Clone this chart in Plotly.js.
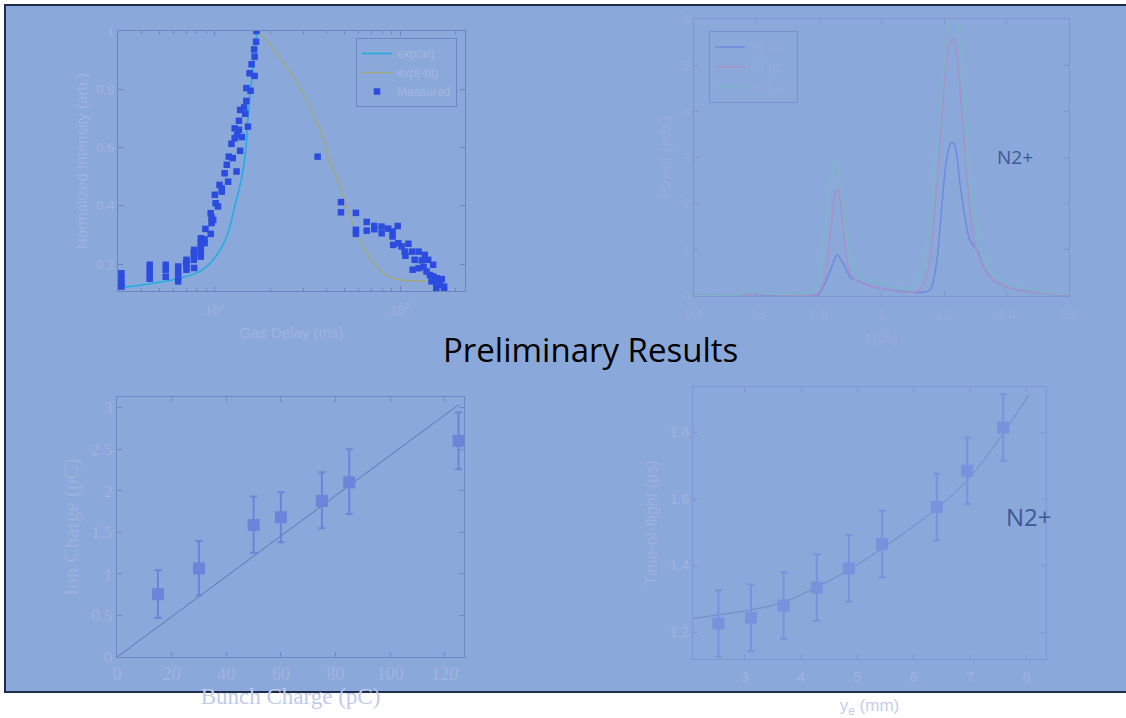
<!DOCTYPE html>
<html>
<head>
<meta charset="utf-8">
<script src="https://cdn.plot.ly/plotly-3.0.1.min.js"></script>
<style>html,body{margin:0;padding:0;background:#fff;}#chart{width:1126px;height:718px;}</style>
</head>
<body>
<div id="chart"></div>
<script>
// ---------- Panel 1: gas delay scan (log x) ----------
const expAtX = [3, 4.46, 6.48, 8.3, 9.8, 11.6, 12.8, 14.0, 14.7, 15.07, 15.85, 16.9];
const expAtY = [0.118, 0.133, 0.152, 0.175, 0.215, 0.295, 0.398, 0.5, 0.592, 0.695, 0.842, 1.0];
const expBtX = [16.9, 17.5, 26.5, 37.0, 41.9, 45.5, 53.7, 66.1, 81.3, 100, 120, 142];
const expBtY = [1.0, 0.992, 0.843, 0.661, 0.552, 0.5, 0.363, 0.238, 0.169, 0.146, 0.143, 0.142];
const measX = [3.13,3.13,3.13,3.13, 4.45,4.45,4.45,4.45, 5.43,5.43,5.43, 6.34,6.34,6.34,6.34,
  7.03,7.03,7.03, 7.73,7.73,7.73, 7.7,7.7,7.0, 8.4,8.4,8.4,8.4,8.4, 8.8,8.8,8.9,
  9.5,9.5,9.6,9.8,9.6, 10.0,10.1,10.4, 10.6,10.9,10.9, 11.3,11.6,11.8,11.9,12.5,13.1,
  12.3,12.8,12.8,13.2,14.0,13.7, 13.5,13.5,15.1,13.7,14.6,14.4, 14.8,14.8,15.6,15.4,16.4,15.8,
  16.4,16.3,16.7,16.8,
  35.9, 48.0,48.0, 57.8,57.8,57.8, 66.1,66.1, 72.6,72.6, 79.6,79.6, 86.4, 91.2,91.2, 97.2,
  91.8,98.0,102,111,106,116,126,107,136,120,131,142,151,117,126,134,139,145,151,158,168,
  148,157,164,173,157,173];
const measY = [0.169,0.152,0.135,0.123, 0.198,0.181,0.165,0.150, 0.198,0.181,0.157, 0.192,0.175,0.158,0.141,
  0.215,0.198,0.181, 0.249,0.232,0.187, 0.238,0.215,0.204, 0.289,0.272,0.255,0.240,0.226, 0.272,0.285,0.321,
  0.375,0.304,0.341,0.352,0.360, 0.438,0.409,0.398, 0.472,0.449,0.460, 0.512,0.541,0.483,0.569,0.564,0.518,
  0.613,0.632,0.666,0.643,0.636,0.589, 0.692,0.661,0.672,0.729,0.716,0.738, 0.760,0.804,0.795,0.855,0.846,0.886,
  0.912,0.937,0.963,1.0,
  0.569, 0.413,0.378, 0.376,0.318,0.304, 0.345,0.315, 0.331,0.320, 0.329,0.306, 0.322, 0.312,0.295, 0.331,
  0.266,0.272,0.261,0.270,0.243,0.243,0.243,0.229,0.232,0.215,0.213,0.215,0.198,0.181,0.186,0.190,0.175,0.163,0.158,0.152,0.149,
  0.141,0.135,0.129,0.123,0.114,0.110];
const p1Names = ["exp(at)", "exp(-bt)", "Measured"];

// ---------- Panel 2: time-of-flight spectra ----------
const s35X = [0.40,0.50,0.58,0.62,0.70,0.78,0.797,0.824,0.845,0.858,0.877,0.893,0.904,0.931,0.973,1.027,1.06,1.10,1.13,1.155,1.176,1.192,1.208,1.222,1.232,1.240,1.251,1.267,1.283,1.305,1.326,1.358,1.411,1.475,1.55,1.60];
const s35Y = [0.01,0.02,0.03,0.02,0.02,0.02,0.03,0.35,0.71,0.89,0.71,0.49,0.38,0.31,0.20,0.13,0.10,0.08,0.08,0.13,0.71,1.86,2.95,3.31,3.30,3.09,2.44,1.72,1.21,1.00,0.63,0.35,0.17,0.09,0.04,0.02];
const s60X = [0.40,0.50,0.58,0.62,0.70,0.78,0.792,0.810,0.824,0.840,0.851,0.858,0.867,0.877,0.888,0.899,0.915,0.952,0.995,1.048,1.09,1.12,1.144,1.166,1.187,1.203,1.219,1.230,1.240,1.257,1.273,1.294,1.315,1.347,1.401,1.475,1.55,1.60];
const s60Y = [0.01,0.02,0.04,0.03,0.02,0.02,0.03,0.20,0.63,1.57,2.22,2.31,2.12,1.50,0.85,0.49,0.35,0.24,0.17,0.10,0.08,0.12,0.42,1.50,3.31,4.75,5.51,5.56,5.26,4.03,2.58,1.28,0.78,0.42,0.20,0.09,0.04,0.02];
const s100X = [0.40,0.50,0.55,0.568,0.594,0.616,0.64,0.70,0.76,0.776,0.792,0.813,0.835,0.851,0.854,0.867,0.883,0.899,0.915,0.952,0.995,1.059,1.101,1.134,1.155,1.176,1.198,1.214,1.224,1.238,1.251,1.267,1.283,1.305,1.326,1.358,1.411,1.475,1.55,1.60];
const s100Y = [0.01,0.02,0.04,0.08,0.08,0.06,0.04,0.04,0.05,0.06,0.20,1.21,2.37,2.95,2.98,2.51,1.57,0.85,0.53,0.35,0.28,0.17,0.20,0.71,1.57,3.16,4.75,5.76,6.10,6.10,5.47,4.03,2.58,1.50,0.85,0.49,0.24,0.13,0.06,0.03];
const p2Names = ["35 pC", "60 pC", "100 pC"];

// ---------- Panel 3: ion charge vs bunch charge ----------
const bunchQ = [15, 30, 50, 60, 75, 85, 125];
const ionQ = [0.755, 1.064, 1.586, 1.679, 1.876, 2.10, 2.598];
const ionErrPlus = [0.289, 0.33, 0.342, 0.30, 0.345, 0.398, 0.342];
const ionErrMinus = [0.285, 0.321, 0.333, 0.30, 0.33, 0.381, 0.341];
const fitLineX = [0, 125];
const fitLineY = [0, 3.03];

// ---------- Panel 4: time of flight vs y_e ----------
const yeX = [2.53, 3.11, 3.69, 4.28, 4.85, 5.44, 6.41, 6.95, 7.59];
const tofY = [1.226, 1.243, 1.280, 1.334, 1.391, 1.465, 1.576, 1.685, 1.815];
const tofErr = [0.10, 0.10, 0.10, 0.10, 0.10, 0.10, 0.10, 0.10, 0.10];
const tofFitX = [2.08, 2.53, 3.11, 3.69, 4.28, 4.85, 5.44, 6.41, 6.95, 7.59, 8.04];
const tofFitY = [1.241, 1.252, 1.267, 1.290, 1.336, 1.387, 1.452, 1.572, 1.657, 1.797, 1.912];

const W = 1126, H = 718;
const fx = px => px / W;
const fy = py => 1 - py / H;
const sans = "Liberation Sans, Arial, sans-serif";
const serif = "Liberation Serif, Times New Roman, serif";

const traces = [
  {x: expAtX, y: expAtY, name: p1Names[0], mode: "lines", line: {color: "#1DAEE2", width: 1.5, shape: "spline"}, xaxis: "x", yaxis: "y", legend: "legend"},
  {x: expBtX, y: expBtY, name: p1Names[1], mode: "lines", line: {color: "#A6A968", width: 1.2, shape: "spline"}, xaxis: "x", yaxis: "y", legend: "legend"},
  {x: measX, y: measY, name: p1Names[2], mode: "markers", marker: {symbol: "square", size: 6.5, color: "#2B4CDF"}, xaxis: "x", yaxis: "y", legend: "legend"},
  {x: s35X, y: s35Y, name: p2Names[0], mode: "lines", line: {color: "#7089DE", width: 1.5, shape: "spline"}, xaxis: "x2", yaxis: "y2", legend: "legend2"},
  {x: s60X, y: s60Y, name: p2Names[1], mode: "lines", line: {color: "#A693C8", width: 1.5, shape: "spline"}, xaxis: "x2", yaxis: "y2", legend: "legend2"},
  {x: s100X, y: s100Y, name: p2Names[2], mode: "lines", line: {color: "#7DB6C6", width: 1.5, shape: "spline"}, xaxis: "x2", yaxis: "y2", legend: "legend2"},
  {x: fitLineX, y: fitLineY, mode: "lines", line: {color: "#5E77B0", width: 1}, xaxis: "x3", yaxis: "y3", showlegend: false},
  {x: bunchQ, y: ionQ, mode: "markers", marker: {symbol: "square", size: 12, color: "#6A85DA"},
   error_y: {type: "data", symmetric: false, array: ionErrPlus, arrayminus: ionErrMinus, color: "#6A85DA", thickness: 2, width: 3.5},
   xaxis: "x3", yaxis: "y3", showlegend: false},
  {x: tofFitX, y: tofFitY, mode: "lines", line: {color: "#7089C4", width: 1, shape: "spline"}, xaxis: "x4", yaxis: "y4", showlegend: false},
  {x: yeX, y: tofY, mode: "markers", marker: {symbol: "square", size: 12, color: "#7893DD"},
   error_y: {type: "data", array: tofErr, color: "#7893DD", thickness: 2, width: 3.5},
   xaxis: "x4", yaxis: "y4", showlegend: false}
];

function ax(o, lineColor, fontColor, family, size) {
  return Object.assign({
    showline: true, linecolor: lineColor, linewidth: 1, mirror: "allticks",
    ticks: "inside", ticklen: 5, tickcolor: lineColor, showgrid: false, zeroline: false,
    tickfont: {family: family, size: size, color: fontColor}, fixedrange: true
  }, o);
}

const layout = {
  width: W, height: H,
  margin: {l: 0, r: 0, t: 0, b: 0},
  paper_bgcolor: "#ffffff", plot_bgcolor: "rgba(0,0,0,0)",
  showlegend: true,
  shapes: [{type: "rect", xref: "paper", yref: "paper", x0: fx(5), x1: fx(1140), y0: fy(692), y1: fy(5),
    fillcolor: "#8AA8DA", line: {color: "#1E2D4D", width: 2}, layer: "below"}],
  xaxis: ax({domain: [fx(118), fx(465)], anchor: "y", type: "log", range: [Math.log10(3), 2.351],
    tickvals: [10, 100], ticktext: ["10<sup>1</sup>", "10<sup>2</sup>"], ticklabelstandoff: 7,
    minor: {ticks: "inside", ticklen: 3, tickcolor: "#6C84BF", tickvals: [4,5,6,7,8,9,20,30,40,50,60,70,80,90,200]},
    title: {text: "Gas Delay (ms)", font: {family: sans, size: 15, color: "#A0B4DF"}, standoff: 10}},
    "#6C84BF", "#A0B4DF", sans, 13),
  yaxis: ax({domain: [fy(291), fy(31)], anchor: "x", range: [0.108, 1.0], dtick: 0.2, tick0: 0,
    title: {text: "Normalized Intensity (arb.)", font: {family: sans, size: 15, color: "#A0B4DF"}, standoff: 5}},
    "#6C84BF", "#A0B4DF", sans, 13),
  xaxis2: ax({domain: [fx(694), fx(1069)], anchor: "y2", range: [0.4, 1.6], dtick: 0.2, tick0: 0.4, ticklabelstandoff: 6,
    title: {text: "t (μs)", font: {family: sans, size: 14, color: "#96ADDD"}, standoff: 12}},
    "#7D96CE", "#96ADDD", sans, 13),
  yaxis2: ax({domain: [fy(296), fy(19)], anchor: "x2", range: [0, 6], dtick: 1,
    title: {text: "Power (arb.)", font: {family: sans, size: 15, color: "#96ADDD"}, standoff: 8}},
    "#7D96CE", "#96ADDD", sans, 13),
  xaxis3: ax({domain: [fx(117), fx(464)], anchor: "y3", range: [0, 127], dtick: 20,
    title: {text: "Bunch Charge (pC)", font: {family: serif, size: 23, color: "#BFCBEA"}, standoff: 3}},
    "#6F89C6", "#A0B4DF", serif, 18),
  yaxis3: ax({domain: [fy(657), fy(397)], anchor: "x3", range: [0, 3.125], dtick: 0.5,
    title: {text: "Ion Charge (pC)", font: {family: serif, size: 21, color: "#9DB1DC"}, standoff: 6}},
    "#6F89C6", "#A0B4DF", serif, 17),
  xaxis4: ax({domain: [fx(693), fx(1046)], anchor: "y4", range: [2.08, 8.35], dtick: 1, ticklabelstandoff: 5,
    title: {text: "y<sub>e</sub> (mm)", font: {family: sans, size: 17, color: "#C3CEEB"}, standoff: 16}},
    "#7C96D0", "#9FB4DF", sans, 14),
  yaxis4: ax({domain: [fy(659), fy(387)], anchor: "x4", range: [1.119, 1.937], dtick: 0.2, tick0: 1.2,
    title: {text: "Time-of-flight (μs)", font: {family: sans, size: 16, color: "#9CB1DD"}, standoff: 8}},
    "#7C96D0", "#9FB4DF", sans, 14),
  legend: {x: fx(457), y: fy(38), xanchor: "right", yanchor: "top", bgcolor: "rgba(0,0,0,0)",
    bordercolor: "#6E86BF", borderwidth: 1, font: {family: sans, size: 12, color: "#A4B7E0"}, tracegroupgap: 0,
    itemwidth: 30},
  legend2: {x: fx(709), y: fy(31), xanchor: "left", yanchor: "top", bgcolor: "rgba(0,0,0,0)",
    bordercolor: "#7891CC", borderwidth: 1, font: {family: sans, size: 13, color: "#93ABDC"}, tracegroupgap: 0,
    itemwidth: 30},
  annotations: [
    {text: "Preliminary Results", xref: "paper", yref: "paper", x: fx(591), y: fy(349), showarrow: false,
     font: {family: "Open Sans, sans-serif", size: 33, color: "#000000"}, xanchor: "center", yanchor: "middle"},
    {text: "N2+", xref: "paper", yref: "paper", x: fx(1015), y: fy(157), showarrow: false,
     font: {family: "Open Sans, sans-serif", size: 19, color: "#3D5896"}, xanchor: "center", yanchor: "middle"},
    {text: "N2+", xref: "paper", yref: "paper", x: fx(1029), y: fy(516), showarrow: false,
     font: {family: "Open Sans, sans-serif", size: 24, color: "#3D5896"}, xanchor: "center", yanchor: "middle"}
  ]
};

Plotly.newPlot("chart", traces, layout, {displayModeBar: false, staticPlot: true});
</script>
</body>
</html>
